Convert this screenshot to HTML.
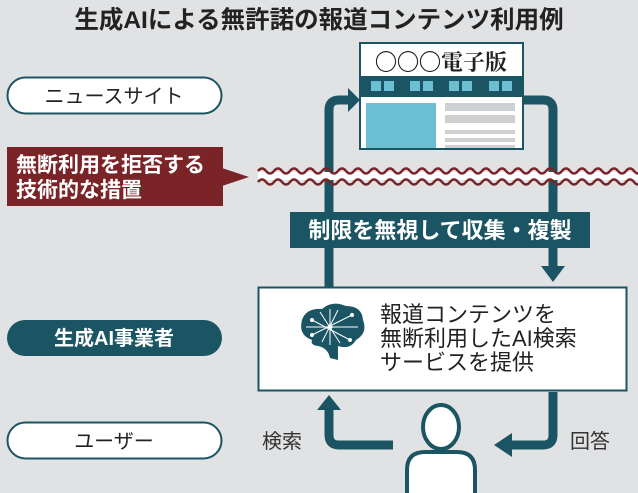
<!DOCTYPE html>
<html><head><meta charset="utf-8"><style>
body{margin:0;width:638px;height:493px;overflow:hidden;background:#e1e2e4;}
svg{display:block}
text{font-family:"Liberation Sans","Noto Sans CJK JP",sans-serif;}
</style></head><body>
<svg width="638" height="493" viewBox="0 0 638 493">
<rect width="638" height="493" fill="#e1e2e4"/>
<text x="319" y="28" text-anchor="middle" font-size="24.5" font-weight="bold" fill="#222">生成AIによる無許諾の報道コンテンツ利用例</text>

<!-- pills -->
<rect x="7.5" y="77.5" width="214" height="36" rx="18" fill="#fff" stroke="#1b5563" stroke-width="2"/>
<text x="114" y="103" text-anchor="middle" font-size="20" fill="#222">ニュースサイト</text>
<rect x="7" y="320" width="215" height="36" rx="18" fill="#1b5563"/>
<text x="114" y="345" text-anchor="middle" font-size="20" font-weight="bold" fill="#fff">生成AI事業者</text>
<rect x="7.5" y="422.5" width="214" height="36" rx="18" fill="#fff" stroke="#1b5563" stroke-width="2"/>
<text x="114" y="448" text-anchor="middle" font-size="20" fill="#222">ユーザー</text>

<!-- red box -->
<rect x="7" y="147" width="216" height="59" fill="#7a2428"/>
<polygon points="222,168 249,177 222,186" fill="#7a2428"/>
<text x="16" y="172" font-size="21" font-weight="bold" fill="#fff">無断利用を拒否する</text>
<text x="16" y="197" font-size="21" font-weight="bold" fill="#fff">技術的な措置</text>

<!-- arrows -->
<g fill="none" stroke="#1b5563" stroke-width="9">
<path d="M329,290 V110 Q329,100 339,100 H350"/>
<path d="M522,100 H543 Q553,100 553,110 V268"/>
<path d="M393,445 H339 Q329,445 329,435 V408"/>
<path d="M553,392 V435 Q553,445 543,445 H510"/>
</g>
<polygon points="348,88 360,100 348,112" fill="#1b5563"/>
<polygon points="541,266 565,266 553,282" fill="#1b5563"/>
<polygon points="317,410 341,410 329,395" fill="#1b5563"/>
<polygon points="512,433 512,457 494,445" fill="#1b5563"/>

<!-- wavy lines -->
<rect x="258" y="172" width="380" height="8" fill="#fff"/>
<g fill="none" stroke="#7a2428" stroke-width="2.5">
<path d="M258,171 q4,-5 8,0 t8,0 t8,0 t8,0 t8,0 t8,0 t8,0 t8,0 t8,0 t8,0 t8,0 t8,0 t8,0 t8,0 t8,0 t8,0 t8,0 t8,0 t8,0 t8,0 t8,0 t8,0 t8,0 t8,0 t8,0 t8,0 t8,0 t8,0 t8,0 t8,0 t8,0 t8,0 t8,0 t8,0 t8,0 t8,0 t8,0 t8,0 t8,0 t8,0 t8,0 t8,0 t8,0 t8,0 t8,0 t8,0 t8,0 t8,0"/>
<path d="M258,182 q4,-5 8,0 t8,0 t8,0 t8,0 t8,0 t8,0 t8,0 t8,0 t8,0 t8,0 t8,0 t8,0 t8,0 t8,0 t8,0 t8,0 t8,0 t8,0 t8,0 t8,0 t8,0 t8,0 t8,0 t8,0 t8,0 t8,0 t8,0 t8,0 t8,0 t8,0 t8,0 t8,0 t8,0 t8,0 t8,0 t8,0 t8,0 t8,0 t8,0 t8,0 t8,0 t8,0 t8,0 t8,0 t8,0 t8,0 t8,0 t8,0"/>
</g>

<!-- newspaper -->
<rect x="360" y="43" width="163" height="106" fill="#fff" stroke="#1b5563" stroke-width="2"/>
<text x="441" y="70" text-anchor="middle" font-size="22" font-weight="bold" fill="#222" style="font-family:'Liberation Serif','Noto Serif CJK SC',serif">〇〇〇電子版</text>
<rect x="360" y="76" width="163" height="21" fill="#1b5563"/>
<g fill="#6cbfd3">
<rect x="371" y="81" width="10" height="10"/><rect x="384" y="81" width="10" height="10"/>
<rect x="410" y="81" width="10" height="10"/><rect x="423" y="81" width="10" height="10"/>
<rect x="449" y="81" width="10" height="10"/><rect x="462" y="81" width="10" height="10"/>
<rect x="489" y="81" width="10" height="10"/><rect x="502" y="81" width="10" height="10"/>
</g>
<rect x="366" y="103" width="70" height="45" fill="#6cbfd3"/>
<g fill="#cfd0d2">
<rect x="445" y="103" width="70" height="8"/><rect x="445" y="115" width="70" height="8"/>
<rect x="445" y="130" width="70" height="4"/><rect x="445" y="138" width="70" height="4"/><rect x="445" y="145" width="70" height="3"/>
</g>

<!-- banner -->
<rect x="290" y="212" width="300" height="36" fill="#1b5563"/>
<text x="440" y="238" text-anchor="middle" font-size="22" font-weight="bold" fill="#fff">制限を無視して収集・複製</text>

<!-- AI box -->
<rect x="258.5" y="287.5" width="368" height="103" fill="#fff" stroke="#1b5563" stroke-width="2"/>
<g>
<path d="M312,340 Q298,335 302,320 Q306,308 322,309 Q332,300 346,306 Q362,306 363,320 Q368,333 356,340 Q350,350 338,346 L338,360 L330,358 Q328,348 318,346 Q310,345 312,340Z" fill="#1b5563"/>
<g stroke="#fff" stroke-width="1" fill="#fff">
<line x1="312" y1="320" x2="350" y2="340"/><line x1="312" y1="335" x2="352" y2="315"/><line x1="320" y1="312" x2="340" y2="343"/><line x1="338" y1="310" x2="322" y2="342"/><line x1="306" y1="327" x2="358" y2="327"/><line x1="330" y1="309" x2="330" y2="345"/>
<circle cx="330" cy="327" r="2"/><circle cx="312" cy="320" r="1.5"/><circle cx="350" cy="340" r="1.5"/><circle cx="352" cy="315" r="1.5"/><circle cx="312" cy="335" r="1.5"/>
</g>
</g>
<text x="380" y="322" font-size="22" fill="#222">報道コンテンツを</text>
<text x="380" y="346" font-size="22" fill="#222">無断利用したAI検索</text>
<text x="380" y="370" font-size="22" fill="#222">サービスを提供</text>

<!-- person -->
<g fill="#fff" stroke="#1b5563" stroke-width="4">
<path d="M407,495 V470 Q407,452 425,452 H457 Q475,452 475,470 V495"/>
<ellipse cx="441" cy="427" rx="18" ry="22"/>
</g>
<text x="262" y="448" font-size="20" fill="#333">検索</text>
<text x="570" y="448" font-size="20" fill="#333">回答</text>
</svg>
</body></html>
